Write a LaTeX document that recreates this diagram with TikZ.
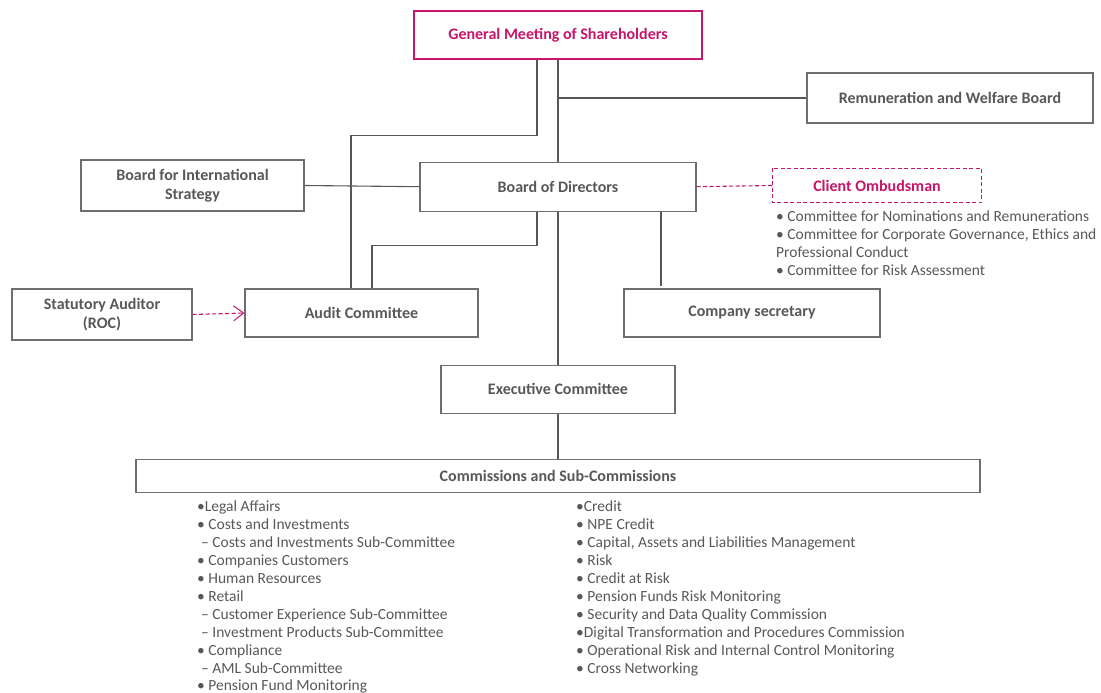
\documentclass[tikz,border=0pt]{standalone}
\usepackage{fontspec}
\setmainfont{Carlito}
\usetikzlibrary{positioning, arrows.meta}
\definecolor{orggray}{RGB}{88,88,88}
\definecolor{orgline}{RGB}{110,110,110}
\definecolor{orgmagenta}{RGB}{198,22,106}

\tikzset{
  orgbox/.style={draw=orgline, fill=white, line width=1.2pt, text=orggray,
                 font=\fontsize{16}{19}\selectfont\bfseries, align=center,
                 inner sep=0pt},
  link/.style={draw=orggray, line width=1.1pt},
  duty/.style={draw=orgmagenta, line width=1.1pt, dash pattern=on 4pt off 2.5pt},
  listtext/.style={anchor=north west, inner sep=0pt, align=left, text=orggray,
                   font=\fontsize{15.5}{17.9}\selectfont}
}

\begin{document}
\begin{tikzpicture}[x=1pt, y=-1pt]
    \useasboundingbox (0,0) rectangle (1101,693);

    % Central column
        \node[orgbox,
              draw=orgmagenta,
              text=orgmagenta,
              minimum width=288pt,
              minimum height=48pt] (gms) at (558,35) {General Meeting of Shareholders};
        \node[orgbox,
              below=102pt of gms,
              minimum width=276pt,
              minimum height=49pt] (bod) {Board of Directors};
        \node[orgbox,
              below=153pt of bod,
              minimum width=234pt,
              minimum height=48pt] (ec) {Executive Committee};
        \node[orgbox,
              below=45pt of ec,
              minimum width=844pt,
              minimum height=33pt] (csc) {Commissions and Sub-Commissions};

    % Side boxes
        \node[orgbox,
              minimum width=286pt,
              minimum height=50pt] (rem) at (950,98) {Remuneration and Welfare Board};
        \node[orgbox,
              minimum width=223pt,
              minimum height=51pt] (bis) at (192.5,185.5) {Board for International\\Strategy};
        \node[orgbox,
              draw=none,
              text=orgmagenta,
              minimum width=208pt,
              minimum height=33pt] (omb) at (877,185.5) {Client Ombudsman};
        \node[orgbox,
              minimum width=180pt,
              minimum height=51pt] (sa) at (102,314.5) {Statutory Auditor\\(ROC)};
        \node[orgbox,
              minimum width=233pt,
              minimum height=48pt] (ac) at (361.5,313) {Audit Committee};
        \node[orgbox,
              minimum width=256pt,
              minimum height=48pt] (cs) at (752,313) {Company secretary};

    % Connectors
        \draw[link] (gms) -- (bod);
        \draw[link] (bod.north |- rem.west) -- (rem.west);
        \draw[link] ([xshift=-21pt]gms.south) -- ++(0,76) -| ([xshift=-10.5pt]ac.north);
        \draw[link] (bis.east) -- (bod.west);
        \draw[link] ([xshift=-21pt]bod.south) -- ++(0,34) -| ([xshift=10.5pt]ac.north);
        \draw[link] (bod) -- (ec);
        \draw[link] ([xshift=103pt]bod.south) coordinate (csTop) -- ++(0,74);
        \draw[link] (ec) -- (csc);
        \draw[duty] (bod.east) -- (omb.west);
        \draw[duty] (omb.north west) rectangle (omb.south east);
        \draw[duty, -{Straight Barb[length=10pt, width=15pt, line width=1pt]}] (sa.east) -- (ac.west);

    % Lists
        \node[listtext] (ombList) at (776,211) {%
            • Committee for Nominations and Remunerations\\
            • Committee for Corporate Governance, Ethics and\\
            Professional Conduct\\
            • Committee for Risk Assessment};
        \node[listtext] (leftList) at (197,501) {%
            •Legal Affairs\\
            • Costs and Investments\\
            \hspace{4pt}– Costs and Investments Sub-Committee\\
            • Companies Customers\\
            • Human Resources\\
            • Retail\\
            \hspace{4pt}– Customer Experience Sub-Committee\\
            \hspace{4pt}– Investment Products Sub-Committee\\
            • Compliance\\
            \hspace{4pt}– AML Sub-Committee\\
            • Pension Fund Monitoring};
        \node[listtext] (rightList) at (576,501) {%
            •Credit\\
            • NPE Credit\\
            • Capital, Assets and Liabilities Management\\
            • Risk\\
            • Credit at Risk\\
            • Pension Funds Risk Monitoring\\
            • Security and Data Quality Commission\\
            •Digital Transformation and Procedures Commission\\
            • Operational Risk and Internal Control Monitoring\\
            • Cross Networking};
\end{tikzpicture}
\end{document}
